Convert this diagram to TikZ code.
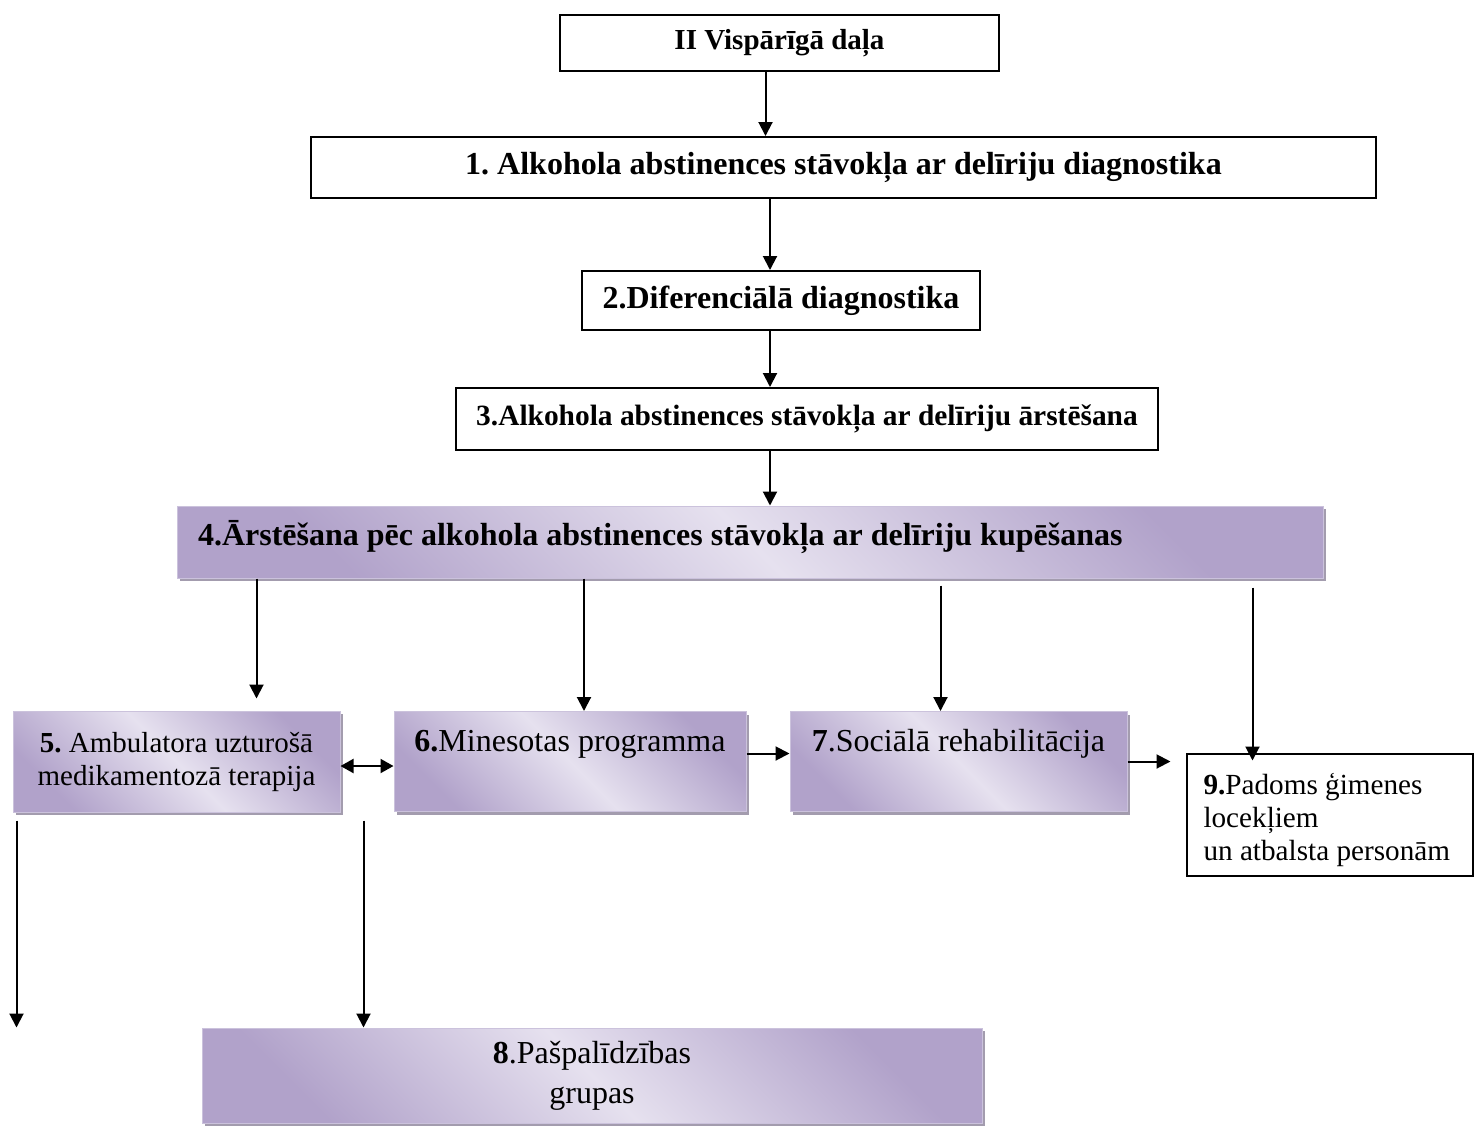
\documentclass[tikz,border=0pt]{standalone}
\usepackage{fontspec}
\setmainfont{Liberation Serif}
\usepackage{xcolor}
\usepackage{tikz}
\usetikzlibrary{arrows.meta,positioning,shadows}
\definecolor{lilacdark}{HTML}{B1A2CA}
\definecolor{lilaclight}{HTML}{E6E1EF}
\definecolor{lilacedge}{HTML}{CBC2DC}
\definecolor{lilacshadow}{HTML}{A39CAE}
\newcommand\boxfont[2]{\fontsize{#1}{#2}\selectfont}
\frenchspacing

\begin{document}
\begin{tikzpicture}
                \tikzstyle{block} = [draw, rectangle, line width=1pt, align=center]
                \tikzstyle{lilac} = [rectangle, draw=lilacedge, line width=0.5pt, top color=lilacdark, bottom color=lilacdark, middle color=lilaclight, shading angle=-45, drop shadow={shadow xshift=1.5pt, shadow yshift=-1.5pt, fill=lilacshadow, opacity=1}, align=center]
                \tikzstyle{arrowline} = [line width=1pt, -{Triangle[length=7pt,width=7pt]}]

                \useasboundingbox (0,0) rectangle (737pt,-563pt);

                \node [block, minimum width=219.5pt, minimum height=28pt, font=\boxfont{14.5}{17}\bfseries] (general) at (389.75pt,-21.5pt) {II Vispārīgā daļa};
                \node [block, below = 32pt of general, xshift=32pt, minimum width=532.5pt, minimum height=30.5pt, font=\boxfont{16}{19}\bfseries] (diagnosis) {1. Alkohola abstinences stāvokļa ar delīriju diagnostika};
                \node [block, below = 35.5pt of diagnosis, xshift=-31.25pt, minimum width=199pt, minimum height=29.5pt, font=\boxfont{16}{19}\bfseries] (diff-diagnosis) {2.Diferenciālā diagnostika};
                \node [block, below = 28pt of diff-diagnosis, xshift=13pt, minimum width=350.75pt, minimum height=31pt, font=\boxfont{14.7}{17}\bfseries] (treatment) {3.Alkohola abstinences stāvokļa ar delīriju ārstēšana};
                \node [lilac, below = 27.25pt of treatment, xshift=-28.5pt, minimum height=36pt, text width=552pt, inner xsep=10.5pt, align=flush left, text height=13pt, text depth=10pt, font=\boxfont{16}{19}\bfseries] (after-care) {4.Ārstēšana pēc alkohola abstinences stāvokļa ar delīriju kupēšanas};
                \node [lilac, below right = 66pt and -82pt of after-care.south west, minimum width=163.5pt, minimum height=50.5pt, font=\boxfont{14.5}{16.5}] (outpatient) {\textbf{5.} Ambulatora uzturošā\\medikamentozā terapija};
                \node [lilac, right = 26.5pt of outpatient, minimum width=176pt, minimum height=50pt, text height=11pt, text depth=21pt, font=\boxfont{16}{19}] (minnesota) {\textbf{6.}Minesotas programma};
                \node [lilac, right = 21.5pt of minnesota, minimum width=168.5pt, minimum height=50pt, text height=11pt, text depth=21pt, font=\boxfont{16}{19}] (social-rehab) {\textbf{7}.Sociālā rehabilitācija};
                \node [block, right = 29pt of social-rehab, yshift=-26.5pt, minimum height=61pt, text width=126pt, inner xsep=8.5pt, align=flush left, text height=16pt, font=\boxfont{14.6}{16.3}] (family) {\textbf{9.}Padoms ģimenes\\locekļiem\\un atbalsta personām};
                \node [lilac, below right = 107.5pt and 94.5pt of outpatient.south west, minimum width=390pt, minimum height=47.5pt, font=\boxfont{16}{20}] (self-help) {\textbf{8}.Pašpalīdzības\\grupas};
                \coordinate (loose) at ([xshift=2pt]outpatient.south west |- self-help.north);

                \draw [arrowline] ([xshift=-7pt]general.south) -- ([xshift=-7pt]general.south |- diagnosis.north);
                \draw [arrowline] ([xshift=-5.5pt]diff-diagnosis.north |- diagnosis.south) -- ([xshift=-5.5pt]diff-diagnosis.north);
                \draw [arrowline] ([xshift=-5.5pt]diff-diagnosis.south) -- ([xshift=-5.5pt]diff-diagnosis.south |- treatment.north);
                \draw [arrowline] ([xshift=-18.5pt]treatment.south) -- ([xshift=-18.5pt]treatment.south |- after-care.north);
                \draw [arrowline] ([xshift=40pt]outpatient.north |- after-care.south) -- ([xshift=40pt,yshift=6pt]outpatient.north);
                \draw [arrowline] ([xshift=7pt]minnesota.north |- after-care.south) -- ([xshift=7pt]minnesota.north);
                \draw [arrowline, shorten <=3.5pt] ([xshift=-9pt]social-rehab.north |- after-care.south) -- ([xshift=-9pt]social-rehab.north);
                \draw [arrowline, shorten <=4.5pt] ([xshift=-38.5pt]family.north |- after-care.south) -- ([xshift=-38.5pt,yshift=-4pt]family.north);
                \draw [arrowline, {Triangle[length=6.5pt,width=7pt]}-{Triangle[length=6.5pt,width=7pt]}] ([yshift=-2.25pt]outpatient.east) -- ([yshift=-2.25pt]outpatient.east -| minnesota.west);
                \draw [arrowline] ([yshift=4pt]minnesota.east) -- ([yshift=4pt]minnesota.east -| social-rehab.west);
                \draw [arrowline] (social-rehab.east) -- ([xshift=-7.5pt]social-rehab.east -| family.west);
                \draw [arrowline, shorten <=4pt] ([xshift=2pt]outpatient.south west) -- (loose);
                \draw [arrowline, shorten <=4pt] ([xshift=11.5pt]outpatient.south east) -- ([xshift=11.5pt]outpatient.south east |- self-help.north);
\end{tikzpicture}
\end{document}
